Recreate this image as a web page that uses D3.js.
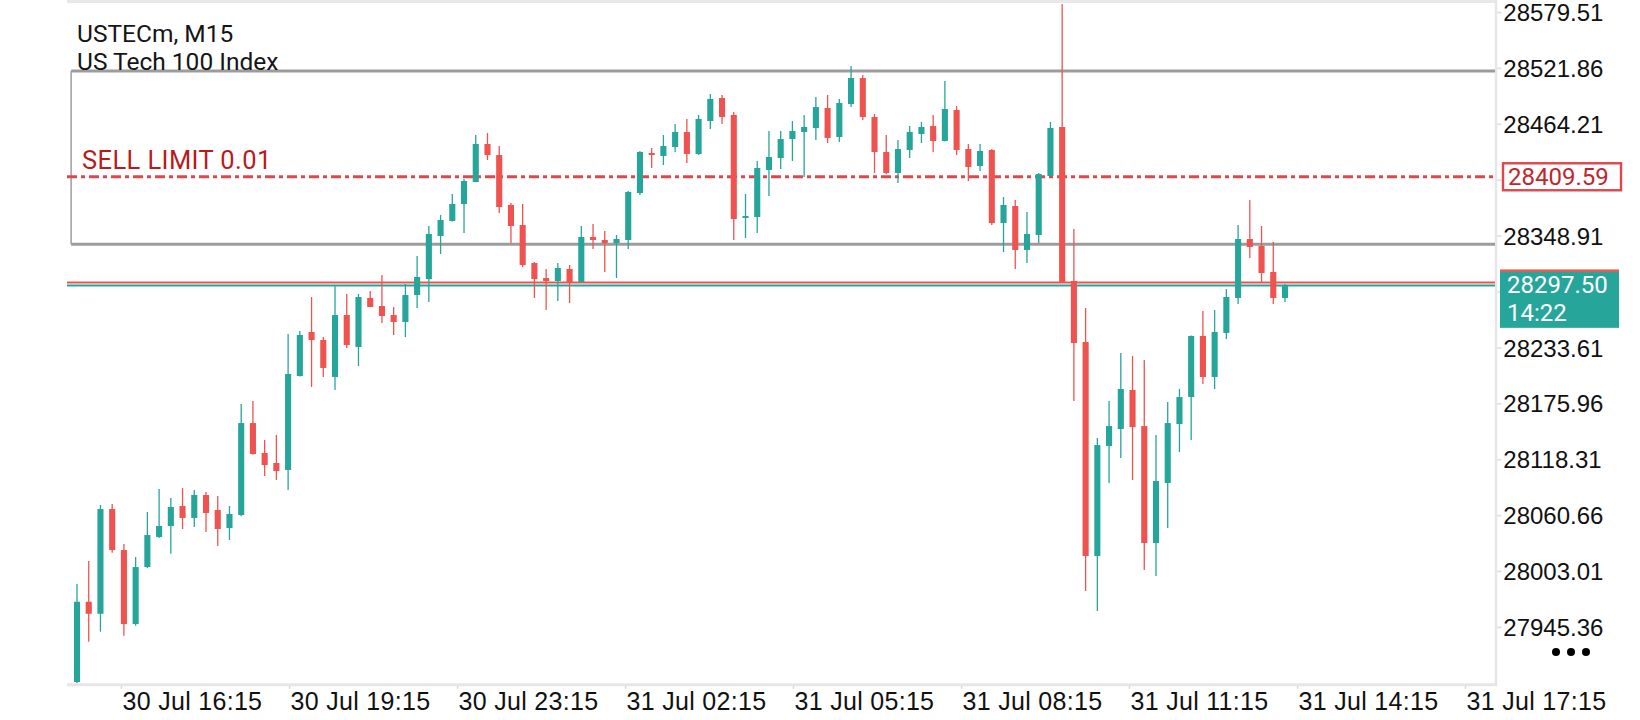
<!DOCTYPE html>
<html>
<head>
<meta charset="utf-8">
<script src="https://cdn.jsdelivr.net/npm/d3@7"></script>
<style>
  html, body { margin: 0; padding: 0; background: #fff; }
  svg { display: block; font-family: Roboto, "Noto Sans", sans-serif; }
  .y-axis text { font-size: 24px; fill: #111; }
  .x-axis text { font-size: 25px; fill: #111; }
  .tick line { stroke: #dcdcdc; stroke-width: 1.5; }
</style>
</head>
<body>
<div class="chart-area"></div>
<script>
// USTECm M15 bars, oldest first
var openP = [
  27888.5, 27971.3, 27958.9, 28066.9, 28024.6, 27948.3, 28007.1, 28038.1, 28049.4, 28070.0,
  28057.7, 28081.4, 28065.9, 28047.3, 28060.7, 28155.6, 28124.7, 28114.4, 28107.2, 28204.1,
  28249.5, 28241.2, 28203.1, 28267.0, 28234.0, 28284.6, 28276.3, 28267.0, 28259.8, 28287.6,
  28304.1, 28348.5, 28364.0, 28381.5, 28404.2, 28443.4, 28432.0, 28380.5, 28359.8, 28320.6,
  28305.2, 28302.1, 28314.5, 28301.1, 28347.5, 28344.4, 28341.3, 28344.4, 28392.8, 28434.1,
  28431.0, 28440.3, 28455.8, 28433.1, 28467.1, 28490.8, 28473.3, 28367.1, 28368.1, 28416.6,
  28428.9, 28448.5, 28455.8, 28459.9, 28480.5, 28450.6, 28484.6, 28511.4, 28471.2, 28435.1,
  28413.5, 28437.2, 28453.7, 28461.9, 28446.5, 28478.4, 28438.2, 28420.7, 28437.2, 28361.9,
  28379.4, 28334.1, 28349.5, 28410.4, 28460.9, 28302.1, 28239.2, 28018.5, 28131.9, 28149.4,
  28189.7, 28152.5, 28031.9, 28093.8, 28154.6, 28182.4, 28245.4, 28203.1, 28248.5, 28284.6,
  28345.4, 28338.2, 28311.4, 28284.6
];
var highP = [
  27989.6, 28013.3, 28071.1, 28072.1, 28030.8, 28017.4, 28063.8, 28087.6, 28078.3, 28088.6,
  28086.5, 28084.5, 28080.3, 28070.0, 28175.2, 28178.3, 28138.1, 28143.3, 28247.4, 28250.5,
  28285.6, 28244.3, 28296.9, 28288.7, 28288.7, 28291.8, 28308.3, 28275.3, 28299.0, 28327.9,
  28358.8, 28370.2, 28391.8, 28407.3, 28452.7, 28454.7, 28441.3, 28382.5, 28381.5, 28321.7,
  28314.5, 28320.6, 28318.6, 28358.8, 28360.9, 28353.7, 28349.5, 28394.9, 28436.2, 28439.3,
  28452.7, 28464.0, 28469.2, 28473.3, 28494.9, 28493.9, 28476.4, 28391.8, 28425.8, 28456.8,
  28456.8, 28467.1, 28473.3, 28491.9, 28493.9, 28489.8, 28523.8, 28514.5, 28474.3, 28452.7,
  28447.5, 28461.9, 28466.1, 28473.3, 28508.4, 28482.6, 28443.4, 28443.4, 28438.2, 28388.7,
  28385.6, 28373.2, 28413.5, 28466.1, 28587.8, 28355.7, 28274.2, 28140.2, 28178.3, 28227.8,
  28224.7, 28220.6, 28143.3, 28177.3, 28190.7, 28245.9, 28271.1, 28272.2, 28293.8, 28359.8,
  28385.6, 28358.8, 28342.3, 28299.0
];
var lowP = [
  27887.5, 27930.1, 27940.4, 28021.9, 27936.3, 27946.6, 28006.0, 28037.0, 28020.8, 28046.3,
  28048.4, 28043.2, 28028.8, 28035.0, 28059.5, 28123.0, 28101.0, 28096.8, 28086.5, 28203.5,
  28192.8, 28203.1, 28189.7, 28233.0, 28214.4, 28275.0, 28258.8, 28246.4, 28244.3, 28274.2,
  28280.4, 28329.9, 28363.5, 28351.6, 28404.0, 28426.9, 28372.2, 28341.3, 28316.5, 28284.6,
  28272.2, 28281.5, 28279.4, 28300.5, 28335.1, 28311.4, 28305.2, 28335.1, 28390.8, 28418.6,
  28421.7, 28435.1, 28423.8, 28432.0, 28458.9, 28464.0, 28344.4, 28346.4, 28351.6, 28389.7,
  28417.6, 28425.8, 28409.3, 28447.5, 28444.4, 28445.4, 28481.5, 28468.1, 28413.5, 28412.4,
  28403.2, 28428.9, 28444.4, 28435.1, 28446.0, 28432.0, 28405.2, 28415.5, 28359.8, 28332.0,
  28314.5, 28320.6, 28341.3, 28410.0, 28300.0, 28178.3, 27982.4, 27961.7, 28093.8, 28119.5,
  28096.8, 28004.0, 27997.8, 28047.3, 28125.7, 28138.1, 28195.9, 28190.7, 28242.3, 28278.4,
  28325.8, 28301.1, 28278.4, 28280.4
];
var closeP = [
  27971.3, 27958.9, 28066.9, 28024.6, 27948.3, 28007.1, 28040.1, 28049.4, 28069.0, 28057.7,
  28081.4, 28062.8, 28046.3, 28061.8, 28155.6, 28123.7, 28112.3, 28106.1, 28206.2, 28246.4,
  28241.2, 28212.4, 28267.0, 28236.1, 28285.6, 28275.3, 28266.0, 28259.8, 28287.6, 28306.2,
  28350.6, 28365.0, 28381.5, 28405.2, 28443.4, 28432.0, 28378.4, 28358.8, 28318.6, 28304.1,
  28302.1, 28315.5, 28301.1, 28347.5, 28344.4, 28341.3, 28345.4, 28393.9, 28435.1, 28432.0,
  28441.3, 28455.8, 28433.1, 28469.2, 28489.8, 28471.2, 28366.0, 28369.1, 28418.6, 28430.0,
  28448.5, 28456.8, 28460.9, 28481.5, 28449.6, 28485.7, 28511.4, 28471.2, 28435.1, 28413.5,
  28438.2, 28455.8, 28460.9, 28446.5, 28479.5, 28437.2, 28419.7, 28436.2, 28361.9, 28380.5,
  28334.1, 28350.6, 28412.4, 28459.9, 28301.1, 28238.1, 28018.5, 28132.9, 28152.5, 28190.7,
  28151.5, 28031.9, 28095.8, 28155.6, 28182.4, 28245.4, 28203.1, 28249.5, 28285.6, 28345.4,
  28337.2, 28310.3, 28284.6, 28297.5
];

var priceTicks = [28579.51, 28521.86, 28464.21, 28406.56, 28348.91, 28291.26,
                  28233.61, 28175.96, 28118.31, 28060.66, 28003.01, 27945.36];
// labels under the price tags are not shown
var hiddenTicks = [28406.56, 28291.26];
var timeLabels = ["30 Jul 16:15", "30 Jul 19:15", "30 Jul 23:15", "31 Jul 02:15", "31 Jul 05:15",
                  "31 Jul 08:15", "31 Jul 11:15", "31 Jul 14:15", "31 Jul 17:15"];
// bar index under each time label
var timeTickBars = [3.75, 18.08, 32.41, 46.73, 61.05, 75.38, 89.7, 104.03, 118.35];

var symbolName = "USTECm, M15",
    symbolDesc = "US Tech 100 Index",
    sellLimit = 28409.59,
    sellLimitText = "SELL LIMIT 0.01",
    bid = 28297.50,
    ask = 28300.60,
    barTimer = "14:22",
    boxTop = 28518.66,
    boxBottom = 28339.90;

var green = "#26a69a", red = "#ef5350";

var width = 1640, height = 720,
    plotLeft = 67, plotRight = 1496, plotTop = 3, plotBottom = 683;

var svg = d3.select(".chart-area")
            .append("svg")
            .attr("width", width)
            .attr("height", height);

svg.append("rect").attr("width", width).attr("height", height).attr("fill", "#fff");

var x = d3.scaleLinear().domain([0, openP.length - 1]).range([77, 1285]),
    y = d3.scaleLinear().domain(d3.extent(priceTicks)).range([626.9, 12]);

svg.append("clipPath").attr("id", "plot-clip")
   .append("rect")
   .attr("x", plotLeft).attr("y", plotTop)
   .attr("width", plotRight - plotLeft - 1).attr("height", plotBottom - plotTop);

// frame
svg.append("line").attr("x1", plotLeft).attr("x2", plotRight).attr("y1", 1.5).attr("y2", 1.5)
   .attr("stroke", "#e8e8e8").attr("stroke-width", 3);
svg.append("line").attr("x1", plotLeft).attr("x2", plotRight + 1).attr("y1", 684.7).attr("y2", 684.7)
   .attr("stroke", "#e6e6e6").attr("stroke-width", 3);
svg.append("line").attr("x1", plotRight).attr("x2", plotRight).attr("y1", 0).attr("y2", 686)
   .attr("stroke", "#e6e6e6").attr("stroke-width", 2.5);

var plot = svg.append("g").attr("clip-path", "url(#plot-clip)");

// rectangle object
plot.append("line")
    .attr("x1", x(-0.5)).attr("x2", x(-0.5))
    .attr("y1", y(boxTop)).attr("y2", y(boxBottom))
    .attr("stroke", "#a4a4a4").attr("stroke-width", 1.6);
plot.selectAll(".level")
    .data([boxTop, boxBottom])
    .enter()
    .append("line")
    .attr("class", "level")
    .attr("x1", x(-0.5)).attr("x2", plotRight)
    .attr("y1", function(d) { return y(d) })
    .attr("y2", function(d) { return y(d) })
    .attr("stroke", "#9c9c9c").attr("stroke-width", 3);

// pending order line
plot.append("line")
    .attr("x1", plotLeft).attr("x2", plotRight)
    .attr("y1", y(sellLimit)).attr("y2", y(sellLimit))
    .attr("stroke", "#e0474c").attr("stroke-width", 3)
    .attr("stroke-dasharray", "10,4,4,4");

plot.append("text")
    .attr("x", 82).attr("y", y(sellLimit) - 8)
    .attr("fill", "#b71c1c").attr("font-size", 25.5)
    .attr("letter-spacing", 0.4)
    .text(sellLimitText);

// bid / ask
plot.append("line")
    .attr("x1", plotLeft).attr("x2", plotRight)
    .attr("y1", y(ask)).attr("y2", y(ask))
    .attr("stroke", red).attr("stroke-width", 2);
plot.append("line")
    .attr("x1", plotLeft).attr("x2", plotRight)
    .attr("y1", y(bid)).attr("y2", y(bid))
    .attr("stroke", green).attr("stroke-width", 2);

// candles
var bars = d3.range(openP.length),
    bodyW = (x(1) - x(0)) * 0.52;

plot.selectAll(".wick")
    .data(bars)
    .enter()
    .append("line")
    .attr("class", "wick")
    .attr("x1", function(i) { return x(i) })
    .attr("x2", function(i) { return x(i) })
    .attr("y1", function(i) { return y(highP[i]) })
    .attr("y2", function(i) { return y(lowP[i]) })
    .attr("stroke", function(i) { return closeP[i] >= openP[i] ? green : red })
    .attr("stroke-width", 1.3);

plot.selectAll(".body")
    .data(bars)
    .enter()
    .append("rect")
    .attr("class", "body")
    .attr("x", function(i) { return x(i) - bodyW / 2 })
    .attr("y", function(i) { return y(Math.max(openP[i], closeP[i])) })
    .attr("width", bodyW)
    .attr("height", function(i) { return Math.max(1.5, Math.abs(y(openP[i]) - y(closeP[i]))) })
    .attr("fill", function(i) { return closeP[i] >= openP[i] ? green : red });

// symbol caption
svg.append("text").attr("x", 77).attr("y", 42).attr("font-size", 24.5).attr("fill", "#151515").text(symbolName);
svg.append("text").attr("x", 77).attr("y", 70).attr("font-size", 24.5).attr("fill", "#151515").text(symbolDesc);

// price axis
var yAxis = svg.append("g")
   .attr("class", "y-axis")
   .attr("transform", "translate(" + (plotRight + 1.3) + ",0)")
   .call(d3.axisRight(y).tickValues(priceTicks).tickSize(4).tickSizeOuter(0).tickPadding(2)
           .tickFormat(d3.format(".2f")));
yAxis.select(".domain").remove();
yAxis.selectAll("text").attr("dy", "0.36em");
yAxis.selectAll(".tick")
     .filter(function(d) { return hiddenTicks.indexOf(d) >= 0 })
     .select("text").remove();

// time axis
var xAxis = svg.append("g")
   .attr("class", "x-axis")
   .attr("transform", "translate(0,686)")
   .call(d3.axisBottom(x).tickValues(timeTickBars).tickSize(3).tickSizeOuter(0)
           .tickFormat(function(d, i) { return timeLabels[i] }));
xAxis.select(".domain").remove();
xAxis.selectAll("text")
     .attr("text-anchor", "start")
     .attr("x", 1).attr("y", 24).attr("dy", 0)
     .attr("letter-spacing", 0.3);

// order price tag
var sy = y(sellLimit);
svg.append("rect")
   .attr("x", 1503).attr("y", sy - 13.5).attr("width", 118).attr("height", 27)
   .attr("fill", "#fff").attr("stroke", "#e0474c").attr("stroke-width", 2.4);
svg.append("text")
   .attr("x", 1508).attr("y", sy + 8.5)
   .attr("fill", "#c0272d").attr("font-size", 24)
   .text(d3.format(".2f")(sellLimit));

// bid tag
var by = y(bid);
svg.append("rect")
   .attr("x", 1500).attr("y", by - 16).attr("width", 119).attr("height", 2.5)
   .attr("fill", red);
svg.append("rect")
   .attr("x", 1500).attr("y", by - 13.6).attr("width", 119).attr("height", 56)
   .attr("fill", green);
svg.append("text")
   .attr("x", 1507).attr("y", by + 8)
   .attr("fill", "#fff").attr("font-size", 24)
   .text(d3.format(".2f")(bid));
svg.append("text")
   .attr("x", 1507).attr("y", by + 36)
   .attr("fill", "#fff").attr("font-size", 24)
   .text(barTimer);

// menu dots
svg.selectAll(".dot")
   .data([0, 1, 2])
   .enter()
   .append("circle")
   .attr("class", "dot")
   .attr("cx", function(d) { return 1556 + d * 15 })
   .attr("cy", 652)
   .attr("r", 4)
   .attr("fill", "#000");
</script>
</body>
</html>
